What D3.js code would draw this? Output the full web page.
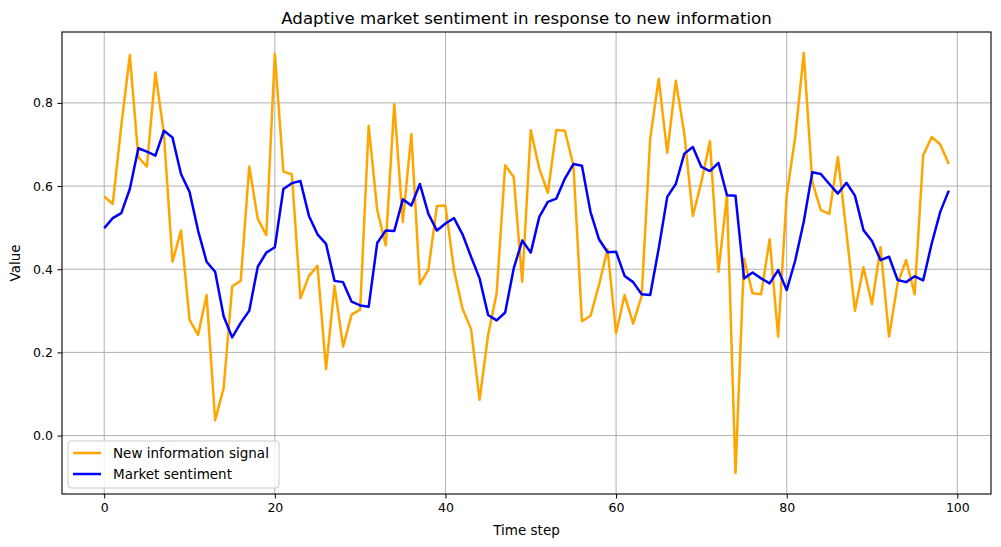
<!DOCTYPE html>
<html><head><meta charset="utf-8">
<script src="https://cdn.jsdelivr.net/npm/d3@7"></script>
<style>body{margin:0;background:#fff}svg{display:block}text{font-family:"DejaVu Sans",sans-serif}</style>
</head><body><svg id="c" width="1001" height="547"></svg>
<script>
const signal = [0.575,0.557,0.745,0.915,0.669,0.647,0.873,0.725,0.418,0.493,
0.278,0.242,0.338,0.037,0.114,0.359,0.372,0.647,0.521,0.482,
0.918,0.635,0.628,0.330,0.384,0.408,0.160,0.360,0.214,0.291,
0.303,0.745,0.543,0.457,0.797,0.513,0.725,0.364,0.399,0.552,
0.553,0.398,0.305,0.256,0.086,0.242,0.342,0.650,0.622,0.370,
0.734,0.642,0.584,0.735,0.733,0.650,0.275,0.288,0.362,0.448,
0.246,0.338,0.269,0.336,0.714,0.858,0.680,0.853,0.726,0.528,
0.610,0.708,0.394,0.578,-0.090,0.426,0.342,0.340,0.472,0.238,
0.578,0.718,0.920,0.610,0.542,0.533,0.670,0.490,0.300,0.405,
0.316,0.453,0.238,0.366,0.422,0.340,0.674,0.718,0.700,0.653];
const sentiment = [0.499,0.523,0.535,0.593,0.691,0.683,0.673,0.733,0.717,0.629,
0.586,0.493,0.418,0.394,0.287,0.236,0.271,0.300,0.406,0.440,
0.453,0.593,0.607,0.612,0.528,0.484,0.461,0.372,0.369,0.322,
0.313,0.310,0.463,0.493,0.492,0.568,0.553,0.605,0.533,0.493,
0.510,0.523,0.484,0.430,0.378,0.290,0.277,0.296,0.402,0.469,
0.440,0.526,0.562,0.570,0.618,0.653,0.649,0.538,0.472,0.441,
0.442,0.384,0.369,0.340,0.338,0.450,0.574,0.605,0.678,0.694,
0.646,0.636,0.656,0.578,0.577,0.378,0.392,0.378,0.366,0.398,
0.350,0.421,0.514,0.633,0.629,0.605,0.582,0.608,0.577,0.494,
0.468,0.422,0.430,0.374,0.369,0.383,0.373,0.462,0.538,0.589];
const xTicks = [0,20,40,60,80,100];
const yTicks = [0.0,0.2,0.4,0.6,0.8];
const seriesNames = ["New information signal","Market sentiment"];
const seriesColors = ["orange","blue"];

const svg = d3.select("#c");
const L=62, R=991, T=32, B=494;
const n = signal.length;
const xPad = (n-1)*0.05;
const x = d3.scaleLinear().domain([-xPad, n-1+xPad]).range([L,R]);
const all = signal.concat(sentiment);
const [mn,mx] = d3.extent(all);
const yPad = (mx-mn)*0.05;
const y = d3.scaleLinear().domain([mn-yPad, mx+yPad]).range([B,T]);

// grid
const g = svg.append("g");
g.selectAll(".gx").data(xTicks).join("line")
 .attr("x1",d=>x(d)).attr("x2",d=>x(d)).attr("y1",T).attr("y2",B)
 .attr("stroke","#b0b0b0").attr("stroke-width",1);
g.selectAll(".gy").data(yTicks).join("line")
 .attr("y1",d=>y(d)).attr("y2",d=>y(d)).attr("x1",L).attr("x2",R)
 .attr("stroke","#b0b0b0").attr("stroke-width",1);

const line = d3.line().x((d,i)=>x(i)).y(d=>y(d));
[signal, sentiment].forEach((s,k)=>{
  svg.append("path").datum(s).attr("d",line).attr("fill","none")
   .attr("stroke",seriesColors[k]).attr("stroke-width",2.5)
   .attr("stroke-linejoin","round").attr("stroke-linecap","butt");
});

// axes
const xa = svg.append("g").attr("transform",`translate(0,${B})`)
 .call(d3.axisBottom(x).tickValues(xTicks).tickFormat(d3.format("d")).tickSizeOuter(0).tickSize(4.5).tickPadding(4.5));
const ya = svg.append("g").attr("transform",`translate(${L},0)`)
 .call(d3.axisLeft(y).tickValues(yTicks).tickFormat(d3.format(".1f")).tickSizeOuter(0).tickSize(4.5).tickPadding(4.5));
[xa,ya].forEach(a=>{a.select(".domain").remove();
 a.selectAll("text").attr("font-size",12.5).attr("fill","#000").attr("font-family","DejaVu Sans");
 a.selectAll("line").attr("stroke","#000").attr("stroke-width",1);});

svg.append("rect").attr("x",L).attr("y",T).attr("width",R-L).attr("height",B-T)
 .attr("fill","none").attr("stroke","#000").attr("stroke-width",1.1);

svg.append("text").attr("x",(L+R)/2).attr("y",24).attr("text-anchor","middle")
 .attr("font-size",16.6).text("Adaptive market sentiment in response to new information");
svg.append("text").attr("x",(L+R)/2).attr("y",535).attr("text-anchor","middle")
 .attr("font-size",13.5).text("Time step");
svg.append("text").attr("transform",`translate(20,${(T+B)/2}) rotate(-90)`).attr("text-anchor","middle")
 .attr("font-size",13.5).text("Value");

// legend
const lg = svg.append("g");
lg.append("rect").attr("x",68).attr("y",441).attr("width",211).attr("height",47).attr("rx",3)
 .attr("fill","#fff").attr("fill-opacity",0.8).attr("stroke","#cccccc").attr("stroke-width",1);
seriesNames.forEach((nm,k)=>{
  const yy = 453 + k*21;
  lg.append("line").attr("x1",73).attr("x2",101).attr("y1",yy).attr("y2",yy)
   .attr("stroke",seriesColors[k]).attr("stroke-width",2.5);
  lg.append("text").attr("x",113).attr("y",yy+5).attr("font-size",13.5).text(nm);
});
</script></body></html>
